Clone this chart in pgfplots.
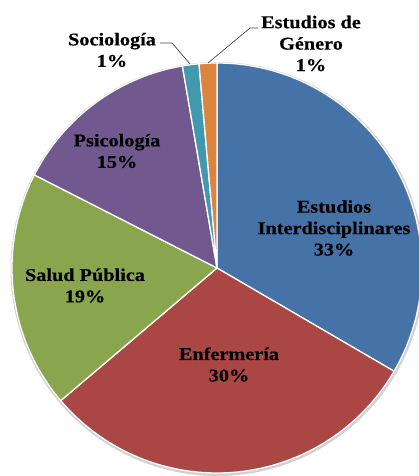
\documentclass[border=0pt]{standalone}
\usepackage{pgfplots}
\usepackage{pgfplotstable}
\pgfplotsset{compat=1.18}
\usepackage{fontspec}
\setmainfont{Liberation Serif}
\newfontfamily\labfont{Liberation Serif}[FakeStretch=1.13, BoldFeatures={FakeBold=0.4}]
\definecolor{cInter}{HTML}{4572A7}
\definecolor{cEnf}{HTML}{AA4643}
\definecolor{cSalud}{HTML}{89A54E}
\definecolor{cPsi}{HTML}{71588F}
\definecolor{cSoc}{HTML}{4198AF}
\definecolor{cGen}{HTML}{DB843D}
\pgfplotstableread{
value color
33.4 cInter
30.4 cEnf
18.7 cSalud
14.8 cPsi
1.3 cSoc
1.4 cGen
}\piedata
\begin{document}
\begin{tikzpicture}
\begin{axis}[at={(0,0)}, anchor=south west, scale only axis,
  width=419bp, height=476bp, xmin=0, xmax=419, ymin=0, ymax=476,
  hide axis, clip=true]
\path (axis cs:0,0) rectangle (axis cs:419,476);
% faint shadow rim
\addplot[fill=black!18, draw=none, domain=0:360, samples=180, variable=\t]
  ({217.5+207*cos(\t)},{207+207*sin(\t)}) -- cycle;
\def\cum{0}
\pgfplotsforeachungrouped \i in {0,...,5}{%
  \pgfplotstablegetelem{\i}{value}\of\piedata \let\v\pgfplotsretval
  \pgfplotstablegetelem{\i}{color}\of\piedata \let\c\pgfplotsretval
  \pgfmathsetmacro\a{90-3.6*\cum}%
  \pgfmathsetmacro\b{90-3.6*(\cum+\v)}%
  \edef\temp{\noexpand\addplot[fill=\c, draw=white, line width=1.3pt, line join=round,
     domain=\b:\a, samples=90, variable=\noexpand\t]
     ({217+205*cos(\noexpand\t)},{208+205*sin(\noexpand\t)}) -- (217,208) -- cycle;}%
  \temp
  \pgfmathsetmacro\cum{\cum+\v}%
}
\draw[black!75, line width=0.7pt] (axis cs:160,433) -- (axis cs:172,433) -- (axis cs:190,412);
\draw[black!75, line width=0.7pt] (axis cs:208,413) -- (axis cs:250,448) -- (axis cs:258,448);
\tikzset{lab/.style={align=center, inner sep=0pt, font=\labfont\bfseries\fontsize{18}{21.5}\selectfont}}
\node[lab] at (axis cs:334,248) {Estudios\\Interdisciplinares\\33\%};
\node[lab] at (axis cs:229,111.5) {Enfermería\\30\%};
\node[lab] at (axis cs:85,190.5) {Salud Pública\\19\%};
\node[lab] at (axis cs:117,325) {Psicología\\15\%};
\node[lab] at (axis cs:112,426) {Sociología\\1\%};
\node[lab] at (axis cs:311,432.5) {Estudios de\\Género\\1\%};
\end{axis}
\end{tikzpicture}
\end{document}
